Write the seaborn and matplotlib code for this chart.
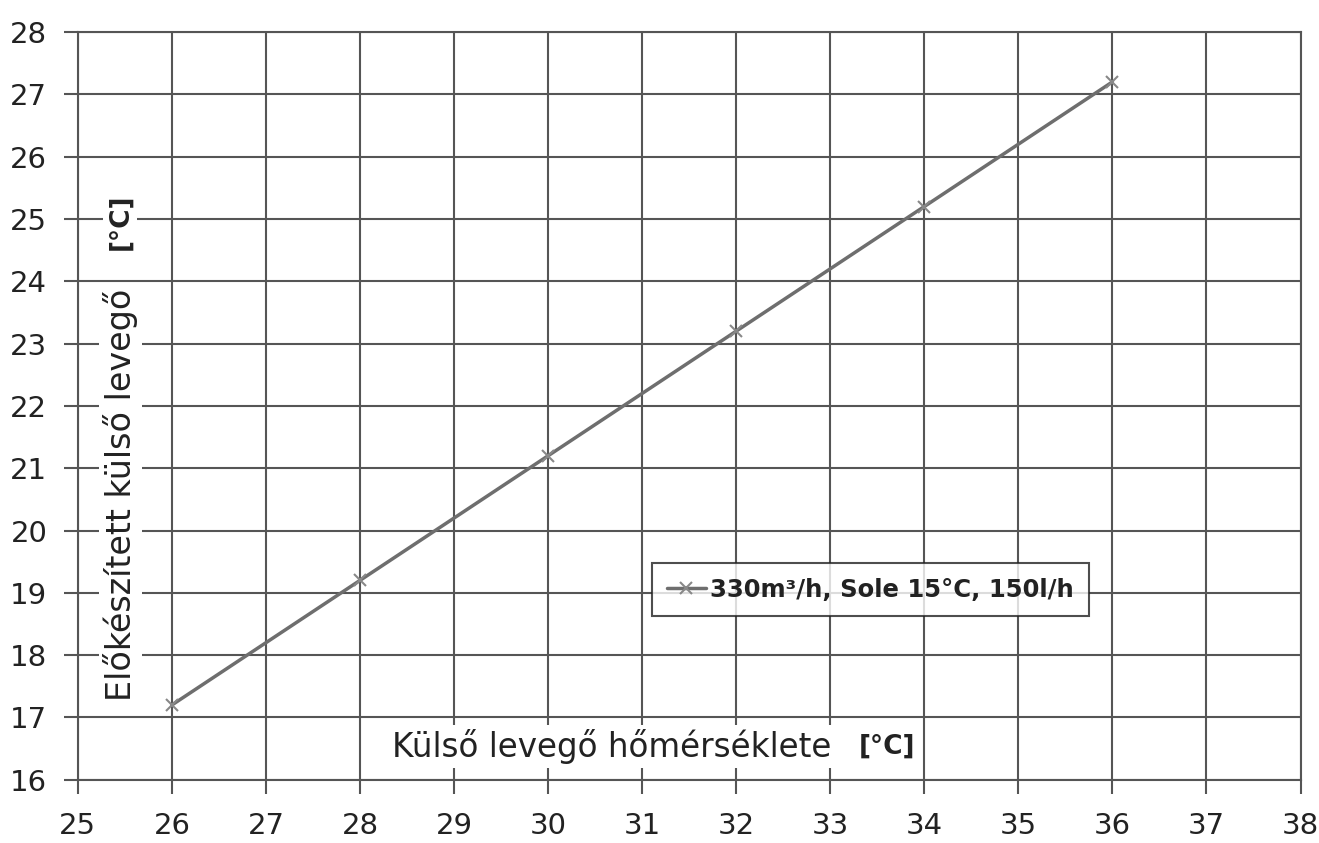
import matplotlib
matplotlib.use("Agg")
import matplotlib.pyplot as plt
import seaborn as sns
import pandas as pd

x_vals = [26, 28, 30, 32, 34, 36]
y_vals = [17.2, 19.2, 21.2, 23.2, 25.2, 27.2]
series_name = "330m³/h, Sole 15°C, 150l/h"
x_ticks = list(range(25, 39))
y_ticks = list(range(16, 29))

sns.set_theme(style="white")
plt.rcParams['font.family'] = ['DejaVu Sans']

df = pd.DataFrame({"x": x_vals, "y": y_vals, "s": series_name})

fig = plt.figure(figsize=(13.19, 8.43), dpi=100)
ax = fig.add_axes([0.059, 0.075, 0.927, 0.887])

line_col = "#6e6e6e"
sns.lineplot(data=df, x="x", y="y", hue="s", palette=[line_col], marker="x",
             markersize=9, markeredgewidth=1.5, markeredgecolor="#888888",
             linewidth=2.5, ax=ax, zorder=5)

ax.set_xlim(25, 38)
ax.set_ylim(16, 28)
ax.set_xticks(x_ticks)
ax.set_yticks(y_ticks)
ax.tick_params(axis="both", which="major", labelsize=21, length=10, width=1.5,
               color="#555555", labelcolor="#222222", direction="out",
               bottom=True, left=True)
ax.tick_params(axis="x", pad=13)
ax.tick_params(axis="y", pad=12)
ax.grid(True, color="#555555", linewidth=1.5)
for sp in ax.spines.values():
    sp.set_color("#555555")
    sp.set_linewidth(1.5)
ax.set_xlabel("")
ax.set_ylabel("")

bb = dict(facecolor="white", edgecolor="none", pad=3)
ax.text(25.45, 20.57, "Előkészített külső levegő", rotation=90, fontsize=24,
        ha="center", va="center", color="#222222", bbox=bb, zorder=6)
ax.text(25.45, 24.95, "[°C]", rotation=90, fontsize=19, fontweight="bold",
        ha="center", va="center", color="#222222", bbox=bb, zorder=6)
ax.text(28.34, 16.53, "Külső levegő hőmérséklete", fontsize=23.5,
        ha="left", va="center", color="#222222", bbox=bb, zorder=6)
ax.text(33.9, 16.53, "[°C]", fontsize=19, fontweight="bold",
        ha="right", va="center", color="#222222", bbox=bb, zorder=6)

leg = ax.legend(loc="upper left", bbox_to_anchor=(0.4697, 0.290), frameon=True,
                fancybox=False, fontsize=17.5, handlelength=1.6, handletextpad=0.2,
                borderpad=0.6, borderaxespad=0)
leg.get_frame().set_edgecolor("#222222")
leg.get_frame().set_linewidth(1.5)
for t in leg.get_texts():
    t.set_fontweight("semibold")
    t.set_color("#222222")
leg.set_zorder(10)

fig.savefig("out.png", dpi=100)
